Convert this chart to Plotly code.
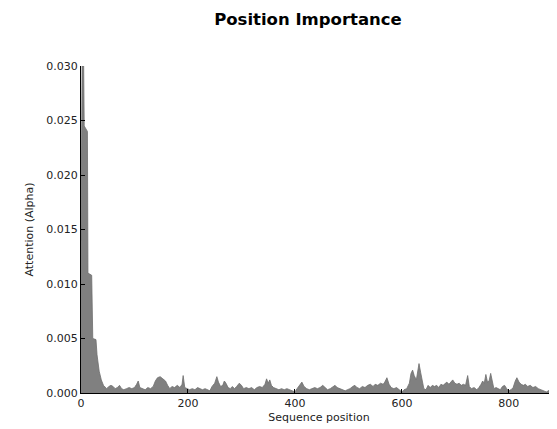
import plotly.graph_objects as go

# attention weight per sequence position
positions = [
    0, 2, 5, 6, 12, 13, 20, 22, 28, 30, 34, 38, 42, 46, 48,
    52, 56, 60, 64, 68, 72, 76, 80, 85, 90, 95, 100, 104, 107, 110, 115, 120, 125, 130, 135,
    139, 143, 148, 153, 158, 162, 166, 170, 175, 180, 185, 189, 191, 194, 198, 203, 208, 213, 218, 222,
    227, 232, 236, 241, 245, 250, 254, 257, 261, 265, 268, 271, 275, 279, 283, 287, 291, 296, 300, 304,
    309, 314, 319, 324, 329, 334, 339, 344, 347, 350, 353, 356, 360, 365, 370, 375, 380, 385, 390, 395,
    400, 404, 409, 413, 417, 422, 427, 432, 437, 442, 447, 452, 456, 461, 466, 470, 475, 479, 484, 489,
    494, 498, 503, 508, 512, 516, 521, 526, 531, 536, 541, 546, 550, 555, 560, 565, 568, 572, 576, 580,
    585, 590, 595, 600, 604, 609, 614, 617, 620, 623, 627, 630, 632, 635, 638, 641, 645, 649, 653, 657,
    661, 665, 669, 673, 677, 681, 684, 688, 692, 695, 699, 703, 707, 711, 715, 719, 723, 726, 730, 735,
    740, 744, 748, 751, 754, 757, 760, 763, 766, 769, 772, 776, 780, 784, 788, 792, 796, 800, 804, 808,
    812, 815, 819, 823, 827, 831, 835, 840, 845, 850, 855, 860, 865, 870, 874, 878, 882, 886, 890, 895,
]
alpha = [
    0.0140, 0.0300, 0.0300, 0.0245, 0.0240, 0.0110, 0.0108, 0.0050, 0.0049, 0.0035,
    0.0020, 0.0012, 0.0007, 0.0005, 0.0004,
    0.0006, 0.0007, 0.0006, 0.0004, 0.0005, 0.0007, 0.0004, 0.0003, 0.0004, 0.0005,
    0.0004, 0.0005, 0.0008, 0.0011, 0.0005, 0.0004, 0.0003, 0.0005, 0.0004, 0.0006,
    0.0011, 0.0014, 0.0015, 0.0013, 0.0011, 0.0007, 0.0004, 0.0006, 0.0005, 0.0007,
    0.0005, 0.0008, 0.0016, 0.0005, 0.0004, 0.0003, 0.0004, 0.0003, 0.0005, 0.0004,
    0.0003, 0.0004, 0.0003, 0.0002, 0.0006, 0.0009, 0.0015, 0.0010, 0.0006, 0.0007,
    0.0011, 0.0009, 0.0005, 0.0004, 0.0006, 0.0004, 0.0006, 0.0009, 0.0007, 0.0004,
    0.0005, 0.0004, 0.0005, 0.0003, 0.0005, 0.0006, 0.0005, 0.0008, 0.0013, 0.0009,
    0.0012, 0.0007, 0.0005, 0.0004, 0.0003, 0.0004, 0.0003, 0.0004, 0.0003, 0.0002,
    0.0001, 0.0004, 0.0008, 0.0010, 0.0006, 0.0004, 0.0003, 0.0004, 0.0005, 0.0004,
    0.0005, 0.0007, 0.0005, 0.0003, 0.0004, 0.0005, 0.0007, 0.0005, 0.0004, 0.0003,
    0.0002, 0.0003, 0.0004, 0.0006, 0.0007, 0.0005, 0.0004, 0.0006, 0.0005, 0.0007,
    0.0008, 0.0006, 0.0008, 0.0007, 0.0009, 0.0008, 0.0010, 0.0014, 0.0008, 0.0005,
    0.0004, 0.0005, 0.0003, 0.0001, 0.0003, 0.0004, 0.0009, 0.0018, 0.0021, 0.0016,
    0.0012, 0.0020, 0.0027, 0.0019, 0.0010, 0.0004, 0.0003, 0.0007, 0.0005, 0.0007,
    0.0006, 0.0007, 0.0005, 0.0008, 0.0007, 0.0009, 0.0010, 0.0008, 0.0010, 0.0012,
    0.0009, 0.0008, 0.0009, 0.0007, 0.0008, 0.0007, 0.0016, 0.0006, 0.0004, 0.0005,
    0.0003, 0.0005, 0.0008, 0.0011, 0.0009, 0.0017, 0.0010, 0.0011, 0.0018, 0.0009,
    0.0004, 0.0005, 0.0004, 0.0003, 0.0006, 0.0007, 0.0004, 0.0002, 0.0003, 0.0005,
    0.0011, 0.0014, 0.0010, 0.0008, 0.0007, 0.0008, 0.0006, 0.0007, 0.0005, 0.0006,
    0.0004, 0.0003, 0.0002, 0.0001, 0.0002, 0.0004, 0.0006, 0.0007, 0.0007, 0.0006,
]

x_ticks = [0, 200, 400, 600, 800]
y_ticks = [0.000, 0.005, 0.010, 0.015, 0.020, 0.025, 0.030]

trace = go.Scatter(
    x=positions,
    y=alpha,
    mode="lines",
    fill="tozeroy",
    fillcolor="rgb(128,128,128)",
    line=dict(color="rgb(110,110,110)", width=0.8),
    hoverinfo="x+y",
    showlegend=False,
)

font = dict(family="DejaVu Sans", size=11, color="#222222")

# the page body adds an 8px margin, so the figure is 8px smaller than the window
W, H = 549, 421

layout = go.Layout(
    width=W,
    height=H,
    margin=dict(l=73, r=0, t=58, b=36),
    paper_bgcolor="white",
    plot_bgcolor="white",
    font=font,
    title=dict(
        text="<b>Position Importance</b>",
        font=dict(family="DejaVu Sans", size=16.5, color="black"),
        x=300 / W,
        xref="container",
        xanchor="center",
        y=1 - 11 / H,
        yref="container",
        yanchor="middle",
    ),
    xaxis=dict(
        title=dict(text="Sequence position", font=font, standoff=4),
        range=[0, 890],
        tickvals=x_ticks,
        ticks="inside",
        ticklen=4,
        tickcolor="black",
        showline=True,
        linecolor="black",
        linewidth=1,
        showgrid=False,
        zeroline=False,
        automargin=False,
    ),
    yaxis=dict(
        title=dict(text="Attention (Alpha)", font=font, standoff=10),
        range=[0, 0.030],
        tickvals=y_ticks,
        tickformat=".3f",
        ticks="inside",
        ticklen=4,
        tickcolor="black",
        showline=True,
        linecolor="black",
        linewidth=1,
        showgrid=False,
        zeroline=False,
        automargin=False,
    ),
)

fig = go.Figure(data=[trace], layout=layout)
fig.write_html("out.html")
